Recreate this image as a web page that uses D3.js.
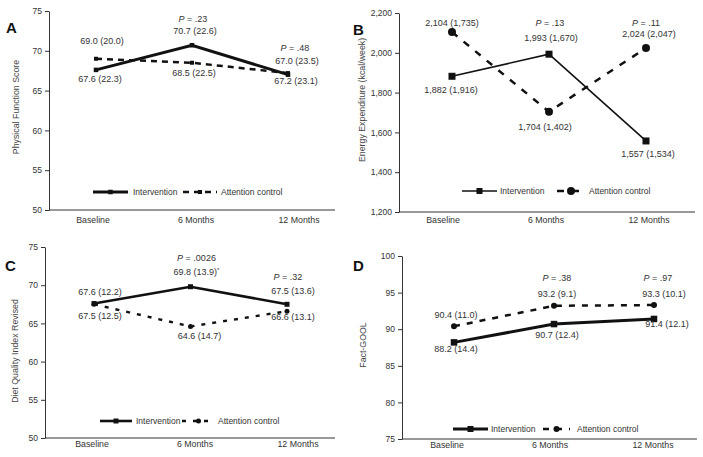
<!DOCTYPE html>
<html><head><meta charset="utf-8">
<script src="https://cdn.jsdelivr.net/npm/d3@7"></script>
<style>
body{margin:0;background:#fff}
svg{display:block}
text{font-family:"Liberation Sans",Arial,Helvetica,sans-serif;}
</style>
</head><body>
<svg id="chart" width="703" height="457"></svg>
<script>
// ---------- DATA ----------
const timepoints = ["Baseline", "6 Months", "12 Months"];
const seriesNames = ["Intervention", "Attention control"];

// Panel A: Physical Function Score
const physIntervention = [67.6, 70.7, 67.0];
const physInterventionSD = [22.3, 22.6, 23.5];
const physAttention = [69.0, 68.5, 67.2];
const physAttentionSD = [20.0, 22.5, 23.1];
const physP = [null, ".23", ".48"];
const physTicks = [50, 55, 60, 65, 70, 75];

// Panel B: Energy Expenditure (kcal/week)
const energyIntervention = [1882, 1993, 1557];
const energyInterventionSD = [1916, 1670, 1534];
const energyAttention = [2104, 1704, 2024];
const energyAttentionSD = [1735, 1402, 2047];
const energyP = [null, ".13", ".11"];
const energyTicks = [1200, 1400, 1600, 1800, 2000, 2200];

// Panel C: Diet Quality Index Revised
const dietIntervention = [67.6, 69.8, 67.5];
const dietInterventionSD = [12.2, 13.9, 13.6];
const dietAttention = [67.5, 64.6, 66.6];
const dietAttentionSD = [12.5, 14.7, 13.1];
const dietP = [null, ".0026", ".32"];
const dietStar = [false, true, false];
const dietTicks = [50, 55, 60, 65, 70, 75];

// Panel D: Fact-GOOL
const factIntervention = [88.2, 90.7, 91.4];
const factInterventionSD = [14.4, 12.4, 12.1];
const factAttention = [90.4, 93.2, 93.3];
const factAttentionSD = [11.0, 9.1, 10.1];
const factP = [null, ".38", ".97"];
const factTicks = [75, 80, 85, 90, 95, 100];

// ---------- LAYOUT / STYLE ----------
const fmt1 = d3.format(".1f");
const fmtK = d3.format(",");

const panels = [
  {
    letter: "A", letterPos: [6, 33], title: "Physical Function Score", titlePos: [16, 107],
    domain: [50, 75], ticks: physTicks, tickFmt: d3.format("d"),
    yRange: [210, 11], axisX: 49, axisEnd: 335, ptRange: [96, 288], labRange: [93, 299], labY: 223,
    inter: physIntervention, interSD: physInterventionSD, att: physAttention, attSD: physAttentionSD,
    pvals: physP, star: [false, false, false], valFmt: fmt1,
    interOff: [[4, 12], [3, -11], [9, -11]], attOff: [[6, -15], [2, 13], [8, 11]],
    pOff: [null, [1, -23], [7, -22]], pRef: "inter",
    interStyle: {w: 3, mk: "square", ms: 4.5}, attStyle: {w: 2.5, dash: "6,5", mk: "square", ms: 4},
    legend: {y: 192, i: [93, 128, 133], a: [183, 217, 221]}
  },
  {
    letter: "B", letterPos: [353, 35], title: "Energy Expenditure (kcal/week)", titlePos: [362, 100],
    domain: [1200, 2200], ticks: energyTicks, tickFmt: fmtK,
    yRange: [212, 13], axisX: 399, axisEnd: 695, ptRange: [452, 646], labRange: [443, 649], labY: 223,
    inter: energyIntervention, interSD: energyInterventionSD, att: energyAttention, attSD: energyAttentionSD,
    pvals: energyP, star: [false, false, false], valFmt: fmtK,
    interOff: [[-1, 17], [2, -13], [2, 16]], attOff: [[0, -6], [-4, 18], [3, -11]],
    pOff: [null, [1, -28], [0, -22]], pRef: "mixed",
    interStyle: {w: 1.6, mk: "square", ms: 7}, attStyle: {w: 2.5, dash: "7,8", mk: "circle", ms: 4},
    legend: {y: 191, i: [462, 497, 500], a: [557, 585, 589]}
  },
  {
    letter: "C", letterPos: [5, 271], title: "Diet Quality Index Revised", titlePos: [15, 351],
    domain: [50, 75], ticks: dietTicks, tickFmt: d3.format("d"),
    yRange: [438, 247], axisX: 45, axisEnd: 335, ptRange: [94, 287], labRange: [92, 298], labY: 447,
    inter: dietIntervention, interSD: dietInterventionSD, att: dietAttention, attSD: dietAttentionSD,
    pvals: dietP, star: dietStar, valFmt: fmt1,
    interOff: [[6, -9], [6, -12], [6, -10]], attOff: [[6, 15], [9, 13], [6, 9]],
    pOff: [null, [6, -26], [1, -24]], pRef: "inter",
    interStyle: {w: 2.6, mk: "square", ms: 5}, attStyle: {w: 2.4, dash: "4,7", mk: "circle", ms: 2.5},
    legend: {y: 421, i: [100, 132, 136], a: [182, 215, 218]}
  },
  {
    letter: "D", letterPos: [353, 271], title: "Fact-GOOL", titlePos: [363, 345],
    domain: [75, 100], ticks: factTicks, tickFmt: d3.format("d"),
    yRange: [439, 256], axisX: 402, axisEnd: 697, ptRange: [454, 654], labRange: [447, 653], labY: 448,
    inter: factIntervention, interSD: factInterventionSD, att: factAttention, attSD: factAttentionSD,
    pvals: factP, star: [false, false, false], valFmt: fmt1,
    interOff: [[2, 10], [3, 14], [13, 8]], attOff: [[2, -8], [3, -9], [10, -8]],
    pOff: [null, [3, -25], [4, -24]], pRef: "att",
    interStyle: {w: 3, mk: "square", ms: 6.5}, attStyle: {w: 2.5, dash: "6,7", mk: "circle", ms: 3},
    legend: {y: 429, i: [453, 488, 491], a: [543, 570, 577]}
  }
];

const svg = d3.select("#chart");
const axisColor = "#333";
const textColor = "#333";

function drawMarker(g, type, x, y, s) {
  if (type === "square") {
    g.append("rect").attr("x", x - s / 2).attr("y", y - s / 2).attr("width", s).attr("height", s).attr("fill", "#111");
  } else {
    g.append("circle").attr("cx", x).attr("cy", y).attr("r", s).attr("fill", "#111");
  }
}

panels.forEach(p => {
  const g = svg.append("g");
  const y = d3.scaleLinear().domain(p.domain).range(p.yRange);
  const x = d3.scalePoint().domain(timepoints).range(p.ptRange);
  const xl = d3.scalePoint().domain(timepoints).range(p.labRange);

  // letter
  g.append("text").attr("x", p.letterPos[0]).attr("y", p.letterPos[1])
    .attr("font-size", 15).attr("font-weight", "bold").attr("fill", "#111").text(p.letter);

  // y title
  g.append("text").attr("transform", `translate(${p.titlePos[0]},${p.titlePos[1]}) rotate(-90)`)
    .attr("text-anchor", "middle").attr("dy", "0.35em").attr("font-size", 8.8).attr("fill", "#444").text(p.title);

  // y axis
  const ya = g.append("g").attr("transform", `translate(${p.axisX},0)`)
    .call(d3.axisLeft(y).tickValues(p.ticks).tickFormat(p.tickFmt).tickSize(4).tickSizeOuter(0).tickPadding(3));
  ya.selectAll("path,line").attr("stroke", axisColor);
  ya.selectAll("text").attr("font-size", 8.5).attr("fill", textColor).attr("font-family", '"Liberation Sans",Arial,sans-serif');

  // x axis line
  g.append("line").attr("x1", p.axisX).attr("x2", p.axisEnd).attr("y1", p.yRange[0]).attr("y2", p.yRange[0])
    .attr("stroke", axisColor).attr("stroke-width", 1);
  // x labels
  timepoints.forEach(t => {
    g.append("text").attr("x", xl(t)).attr("y", p.labY).attr("text-anchor", "middle")
      .attr("font-size", 8.8).attr("fill", textColor).text(t);
  });

  const line = d3.line().x((d, i) => x(timepoints[i])).y(d => y(d));

  // attention control
  g.append("path").datum(p.att).attr("d", line).attr("fill", "none").attr("stroke", "#111")
    .attr("stroke-width", p.attStyle.w).attr("stroke-dasharray", p.attStyle.dash);
  p.att.forEach((v, i) => drawMarker(g, p.attStyle.mk, x(timepoints[i]), y(v), p.attStyle.ms));

  // intervention
  g.append("path").datum(p.inter).attr("d", line).attr("fill", "none").attr("stroke", "#111")
    .attr("stroke-width", p.interStyle.w).attr("stroke-linejoin", "miter");
  p.inter.forEach((v, i) => drawMarker(g, p.interStyle.mk, x(timepoints[i]), y(v), p.interStyle.ms));

  // value labels
  function label(v, sd, off, i, star) {
    const t = g.append("text").attr("x", x(timepoints[i]) + off[0]).attr("y", y(v) + off[1])
      .attr("text-anchor", "middle").attr("font-size", 9).attr("fill", textColor)
      .text(`${p.valFmt(v)} (${p.valFmt(sd)})`);
    if (star) t.append("tspan").attr("font-size", 6).attr("dy", -3).text("*");
  }
  p.inter.forEach((v, i) => label(v, p.interSD[i], p.interOff[i], i, p.star[i]));
  p.att.forEach((v, i) => label(v, p.attSD[i], p.attOff[i], i, false));

  // P values
  p.pvals.forEach((pv, i) => {
    if (!pv) return;
    const ref = Math.max(p.inter[i], p.att[i]);
    const t = g.append("text").attr("x", x(timepoints[i]) + p.pOff[i][0]).attr("y", y(ref) + p.pOff[i][1])
      .attr("text-anchor", "middle").attr("font-size", 9).attr("fill", textColor);
    t.append("tspan").attr("font-style", "italic").text("P");
    t.append("tspan").text(` = ${pv}`);
  });

  // legend
  const L = p.legend;
  g.append("line").attr("x1", L.i[0]).attr("x2", L.i[1]).attr("y1", L.y).attr("y2", L.y)
    .attr("stroke", "#111").attr("stroke-width", p.interStyle.w);
  drawMarker(g, p.interStyle.mk, (L.i[0] + L.i[1]) / 2, L.y, p.interStyle.mk === "square" ? Math.min(p.interStyle.ms, 6) : p.interStyle.ms);
  g.append("text").attr("x", L.i[2]).attr("y", L.y + 3).attr("font-size", 8.5).attr("fill", textColor).text(seriesNames[0]);
  g.append("line").attr("x1", L.a[0]).attr("x2", L.a[1]).attr("y1", L.y).attr("y2", L.y)
    .attr("stroke", "#111").attr("stroke-width", p.attStyle.w).attr("stroke-dasharray", p.attStyle.dash);
  drawMarker(g, p.attStyle.mk, (L.a[0] + L.a[1]) / 2, L.y, p.attStyle.ms);
  g.append("text").attr("x", L.a[2]).attr("y", L.y + 3).attr("font-size", 8.5).attr("fill", textColor).text(seriesNames[1]);
});
</script>
</body></html>
